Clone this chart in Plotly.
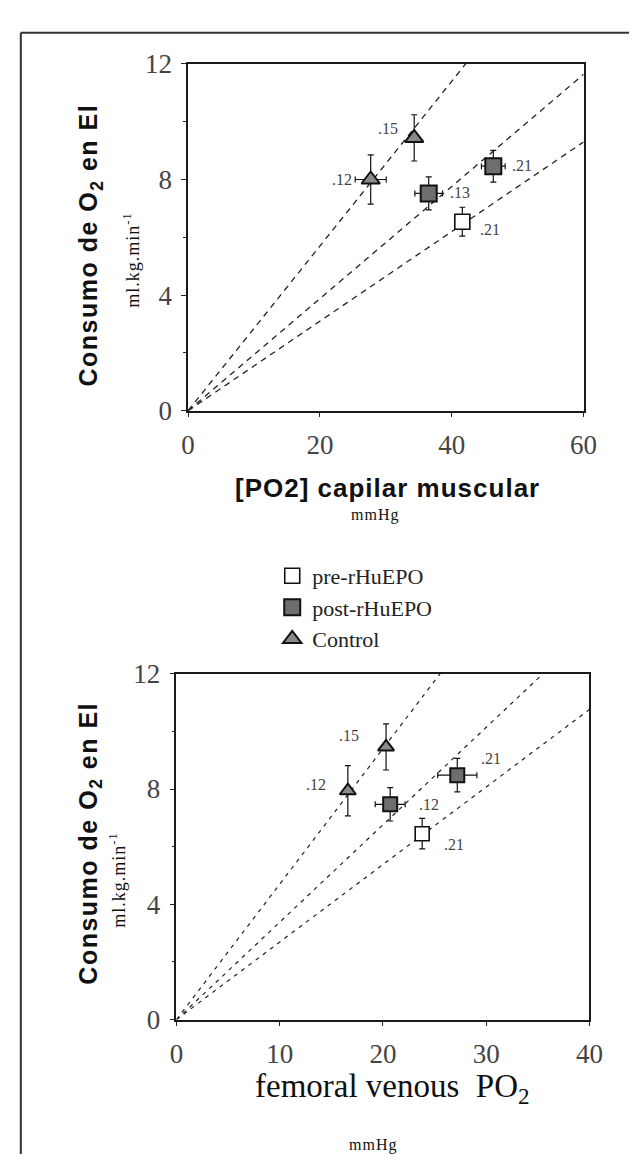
import plotly.graph_objects as go

W, H = 637, 1161

# ---------------- data ----------------
groups = ["pre-rHuEPO", "post-rHuEPO", "Control"]

# Top panel: [PO2] capilar muscular (mmHg) vs VO2 (ml/kg/min)
top_pre_x = [41.6]
top_pre_y = [6.54]
top_pre_xerr = [0.9]
top_pre_yerr = [0.5]
top_pre_lab = [".21"]

top_post_x = [36.5, 46.3]
top_post_y = [7.52, 8.46]
top_post_xerr = [2.1, 1.8]
top_post_yerr = [0.57, 0.55]
top_post_lab = [".13", ".21"]

top_ctrl_x = [27.7, 34.3]
top_ctrl_y = [8.0, 9.44]
top_ctrl_xerr = [2.35, 0.4]
top_ctrl_yerr = [0.85, 0.8]
top_ctrl_lab = [".12", ".15"]

top_slopes = [0.155, 0.194, 0.285]  # pre, post, control

# Bottom panel: femoral venous PO2 (mmHg) vs VO2
bot_pre_x = [23.8]
bot_pre_y = [6.45]
bot_pre_xerr = [0.6]
bot_pre_yerr = [0.53]
bot_pre_lab = [".21"]

bot_post_x = [20.7, 27.2]
bot_post_y = [7.47, 8.48]
bot_post_xerr = [1.45, 1.9]
bot_post_yerr = [0.58, 0.58]
bot_post_lab = [".12", ".21"]

bot_ctrl_x = [16.6, 20.3]
bot_ctrl_y = [7.94, 9.46]
bot_ctrl_xerr = [0.3, 0.3]
bot_ctrl_yerr = [0.87, 0.8]
bot_ctrl_lab = [".12", ".15"]

bot_slopes = [0.269, 0.338, 0.47]

top_xticks = [0, 20, 40, 60]
bot_xticks = [0, 10, 20, 30, 40]
yticks = [0, 4, 8, 12]

# ---------------- styles ----------------
SERIF = "Liberation Serif"
SANS = "Liberation Sans"
marker_styles = {
    "pre-rHuEPO": dict(symbol="square", color="white", line=dict(color="#111", width=1.6)),
    "post-rHuEPO": dict(symbol="square", color="#6e6e6e", line=dict(color="#111", width=2)),
    "Control": dict(symbol="triangle-up", color="#8a8a8a", line=dict(color="#111", width=2)),
}

fig = go.Figure()


def add_group(name, xs, ys, xe, ye, xa, ya, size, legend):
    st = marker_styles[name]
    fig.add_trace(go.Scatter(
        x=xs, y=ys, mode="markers", name=name, showlegend=legend,
        xaxis=xa, yaxis=ya, cliponaxis=False,
        marker=dict(size=size, **st),
        error_x=dict(type="data", array=xe, color="#111", thickness=1.2, width=3),
        error_y=dict(type="data", array=ye, color="#111", thickness=1.2, width=3),
    ))


def add_line(slope, xmax, xa, ya, dash, width):
    fig.add_trace(go.Scatter(
        x=[0, xmax], y=[0, slope * xmax], mode="lines", showlegend=False,
        xaxis=xa, yaxis=ya, line=dict(color="#222", dash=dash, width=width),
        hoverinfo="skip",
    ))


for s in top_slopes:
    add_line(s, top_xticks[-1], "x", "y", "6px,5px", 1.3)
for s in bot_slopes:
    add_line(s, bot_xticks[-1], "x2", "y2", "4px,5px", 1.2)

add_group("pre-rHuEPO", top_pre_x, top_pre_y, top_pre_xerr, top_pre_yerr, "x", "y", 15, True)
add_group("post-rHuEPO", top_post_x, top_post_y, top_post_xerr, top_post_yerr, "x", "y", 16, True)
add_group("Control", top_ctrl_x, top_ctrl_y, top_ctrl_xerr, top_ctrl_yerr, "x", "y", 16, True)

add_group("pre-rHuEPO", bot_pre_x, bot_pre_y, bot_pre_xerr, bot_pre_yerr, "x2", "y2", 14, False)
add_group("post-rHuEPO", bot_post_x, bot_post_y, bot_post_xerr, bot_post_yerr, "x2", "y2", 14, False)
add_group("Control", bot_ctrl_x, bot_ctrl_y, bot_ctrl_xerr, bot_ctrl_yerr, "x2", "y2", 14, False)

annotations = []


def point_labels(xs, ys, labs, offsets, xref, yref):
    for x, y, t, (anchor, dx, dy) in zip(xs, ys, labs, offsets):
        annotations.append(dict(
            x=x, y=y, xref=xref, yref=yref, text=t, showarrow=False,
            xanchor=anchor, yanchor="middle", xshift=dx, yshift=dy,
            font=dict(family=SERIF, size=16, color="#444"),
        ))


point_labels(top_pre_x, top_pre_y, top_pre_lab, [("left", 16, -8)], "x", "y")
point_labels(top_post_x, top_post_y, top_post_lab, [("left", 19, 1), ("left", 17, 1)], "x", "y")
point_labels(top_ctrl_x, top_ctrl_y, top_ctrl_lab, [("right", -17, 0), ("right", -14, 9)], "x", "y")
point_labels(bot_pre_x, bot_pre_y, bot_pre_lab, [("left", 20, -11)], "x2", "y2")
point_labels(bot_post_x, bot_post_y, bot_post_lab, [("left", 27, 0), ("left", 22, 17)], "x2", "y2")
point_labels(bot_ctrl_x, bot_ctrl_y, bot_ctrl_lab, [("right", -20, 6), ("right", -25, 11)], "x2", "y2")


def pa(text, xp, yp, size, family, angle=0, color="#111"):
    annotations.append(dict(
        x=xp / W, y=1 - yp / H, xref="paper", yref="paper", text=text,
        showarrow=False, textangle=angle, xanchor="center", yanchor="middle",
        font=dict(family=family, size=size, color=color),
    ))


ytitle = "<span style='letter-spacing:1.5px'><b>Consumo de O<sub>2</sub> en El</b></span>"
ysub = "<span style='letter-spacing:1px'>ml.kg.min<sup>-1</sup></span>"
pa(ytitle, 78, 228, 25, SANS, -90)
pa(ysub, 121, 243, 18, SERIF, -90)
pa(ytitle, 78, 842, 25, SANS, -90)
pa(ysub, 106, 880, 18, SERIF, -90)
pa("<span style='letter-spacing:1px'><b>[PO2] capilar muscular</b></span>", 385, 477, 26, SANS)
pa("<span style='letter-spacing:1px'>mmHg</span>", 372, 505, 16, SERIF)
pa("femoral venous  PO<sub>2</sub>", 390, 1094, 33, SERIF)
pa("<span style='letter-spacing:1px'>mmHg</span>", 370, 1152, 16, SERIF)

axis_common = dict(
    showline=True, linecolor="#1a1a1a", linewidth=1.5, mirror=True,
    ticks="outside", ticklen=5, tickcolor="#222", tickwidth=1,
    showgrid=False, zeroline=False, fixedrange=True,
    tickfont=dict(family=SERIF, size=27, color="#444"),
)

fig.update_layout(
    width=W, height=H, margin=dict(l=0, r=0, t=0, b=0),
    paper_bgcolor="white", plot_bgcolor="white",
    xaxis=dict(domain=[179 / W, 588 / W], range=[0, 60], tickvals=top_xticks,
               anchor="y", ticklabelstandoff=4, **axis_common),
    yaxis=dict(domain=[1 - 398 / H, 1 - 42 / H], range=[0, 12], tickvals=yticks,
               anchor="x", minor=dict(dtick=2, ticklen=3, ticks="outside", tickcolor="#222"),
               ticklabelstandoff=4, **axis_common),
    xaxis2=dict(domain=[167 / W, 594 / W], range=[0, 40], tickvals=bot_xticks,
                anchor="y2", ticklabelstandoff=4, **axis_common),
    yaxis2=dict(domain=[1 - 1023 / H, 1 - 668 / H], range=[0, 12], tickvals=yticks,
                anchor="x2", minor=dict(dtick=2, ticklen=3, ticks="outside", tickcolor="#222"),
                ticklabelstandoff=4, **axis_common),
    legend=dict(x=266 / W, y=1 - 546 / H, xanchor="left", yanchor="top",
                font=dict(family=SERIF, size=22, color="#222"),
                bgcolor="rgba(0,0,0,0)", tracegroupgap=0, itemwidth=30),
    annotations=annotations,
    shapes=[
        dict(type="line", xref="paper", yref="paper", x0=6 / W, x1=1.0,
             y0=1 - 10 / H, y1=1 - 10 / H, line=dict(color="#333", width=2)),
        dict(type="line", xref="paper", yref="paper", x0=6 / W, x1=6 / W,
             y0=1 - 10 / H, y1=0, line=dict(color="#333", width=2)),
    ],
)

fig.write_html("out.html")
